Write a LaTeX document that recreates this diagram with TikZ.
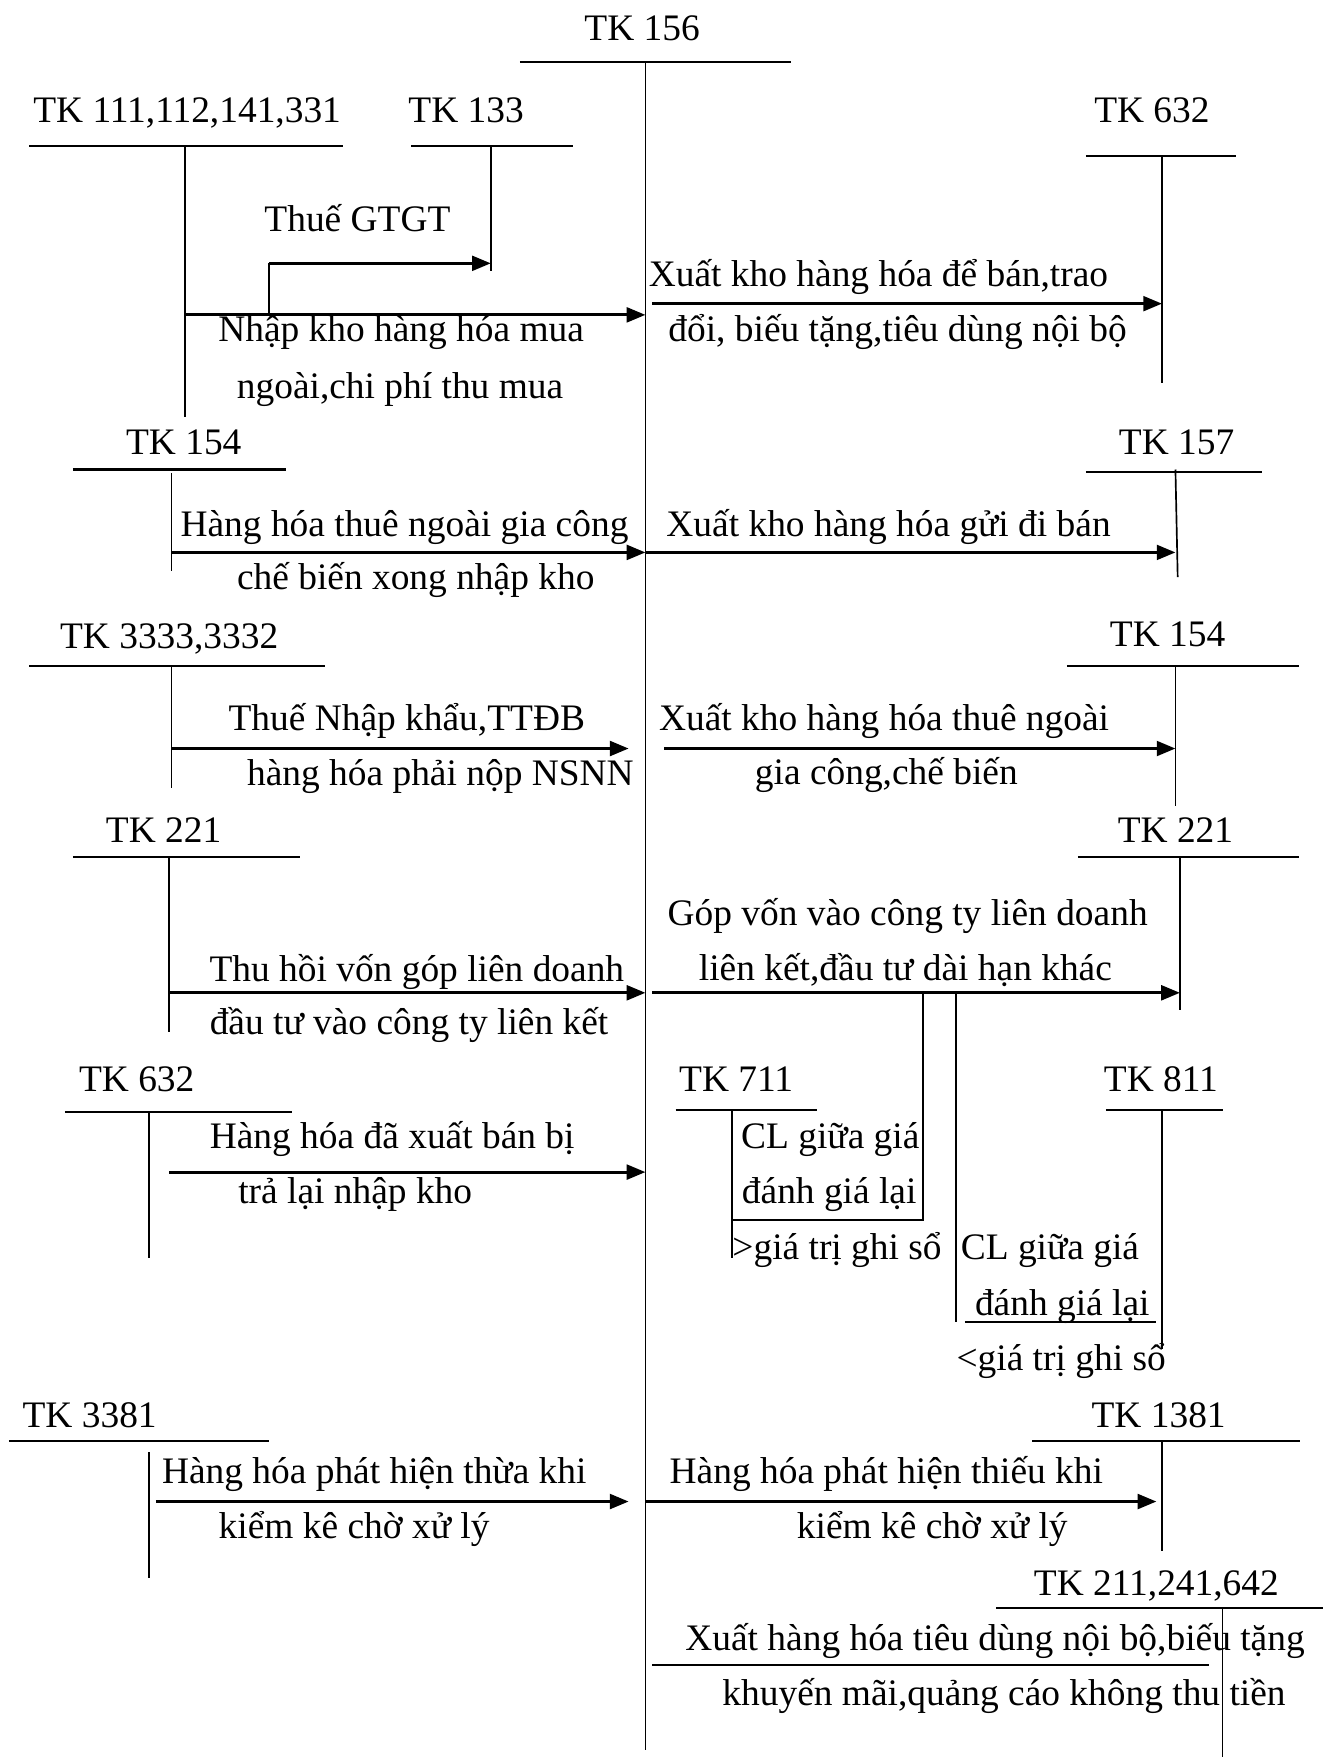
\documentclass[tikz,border=0pt]{standalone}
\usepackage{fontspec}
\setmainfont{Liberation Serif}
\usepackage{tikz}
\usetikzlibrary{arrows.meta}
\newcommand{\tkfont}{\fontsize{19pt}{22pt}\selectfont}

\begin{document}
\begin{tikzpicture}[
  x=0.2mm, y=-0.2mm,
  lbl/.style={font=\tkfont, inner sep=0pt, anchor=base},
  bar/.style={line width=1.05pt},
  stem/.style={line width=0.85pt},
  link/.style={line width=1pt},
  flow/.style={line width=1.45pt, -{Triangle[length=9.5pt,width=7.5pt]}},
]
\useasboundingbox (0,0) rectangle (1181,1568);

% TK 156
\node[lbl] (tk156) at (573,36) {TK 156};
\draw[bar] (464,55) -- (706,55);
\draw[stem] (576,55) coordinate (s156) -- (576,1562);

% TK 111,112,141,331 and TK 133
\node[lbl] (tk111) at (167,109) {TK 111,112,141,331};
\draw[bar] (26,130) -- (306,130);
\draw[stem] (165,130) coordinate (s111) -- (165,372);
\node[lbl] (tk133) at (416,109) {TK 133};
\draw[bar] (367,130) -- (511,130);
\draw[stem] (438,130) coordinate (s133) -- (438,242);
\coordinate (vat) at (240,281);
\draw[flow] (s111 |- vat) -- (s156 |- vat);
\draw[stem] (vat) -- (vat |- 0,235) coordinate (vat2);
\draw[flow] (vat2) -- (s133 |- vat2);
\node[lbl] (t-gtgt) at (319,207) {Thuế GTGT};
\node[lbl] (t-mua1) at (358,305) {Nhập kho hàng hóa mua};
\node[lbl] (t-mua2) at (357,356) {ngoài,chi phí thu mua};

% TK 632 (top right)
\node[lbl] (tk632a) at (1028,109) {TK 632};
\draw[bar] (969,139) -- (1103,139);
\draw[stem] (1037,139) coordinate (s632a) -- (1037,342);
\coordinate (o632) at (582,271);
\draw[flow] (o632) -- (s632a |- o632);
\node[lbl] (t-ban1) at (784,256) {Xuất kho hàng hóa để bán,trao};
\node[lbl] (t-ban2) at (801,305) {đổi, biếu tặng,tiêu dùng nội bộ};

% TK 154 (left)
\node[lbl] (tk154a) at (164,406) {TK 154};
\draw[bar] (65,419) -- (255,419);
\draw[stem] (153,422) coordinate (s154a) -- (153,510);
\draw[flow] (s154a |- 0,493) -- (s156 |- 0,493);
\node[lbl] (t-gc1) at (361,479) {Hàng hóa thuê ngoài gia công};
\node[lbl] (t-gc2) at (371,526) {chế biến xong nhập kho};

% TK 157
\node[lbl] (tk157) at (1050,406) {TK 157};
\draw[bar] (969,421) -- (1126,421);
\draw[stem] (1049,419) coordinate (s157) -- (1051,515);
\draw[flow] (s156 |- 0,493) -- (s157 |- 0,493);
\node[lbl] (t-gui) at (793,479) {Xuất kho hàng hóa gửi đi bán};

% TK 3333,3332
\node[lbl] (tk3333) at (151,579) {TK 3333,3332};
\draw[bar] (26,594) -- (290,594);
\draw[stem] (153,594) coordinate (s3333) -- (153,703);
\coordinate (e3333) at (561,668);
\draw[flow] (s3333 |- e3333) -- (e3333);
\node[lbl] (t-nk1) at (363,652) {Thuế Nhập khẩu,TTĐB};
\node[lbl] (t-nk2) at (393,701) {hàng hóa phải nộp NSNN};

% TK 154 (right)
\node[lbl] (tk154b) at (1042,577) {TK 154};
\draw[bar] (952,594) -- (1159,594);
\draw[stem] (1049,594) coordinate (s154b) -- (1049,719);
\coordinate (o154) at (593,668);
\draw[flow] (o154) -- (s154b |- o154);
\node[lbl] (t-xt1) at (789,652) {Xuất kho hàng hóa thuê ngoài};
\node[lbl] (t-xt2) at (791,700) {gia công,chế biến};

% TK 221 (left)
\node[lbl] (tk221a) at (146,752) {TK 221};
\draw[bar] (65,765) -- (268,765);
\draw[stem] (151,765) coordinate (s221a) -- (151,921);
\draw[flow] (s221a |- 0,886) -- (s156 |- 0,886);
\node[lbl] (t-hv1) at (372,876) {Thu hồi vốn góp liên doanh};
\node[lbl] (t-hv2) at (365,923) {đầu tư vào công ty liên kết};

% TK 221 (right)
\node[lbl] (tk221b) at (1049,752) {TK 221};
\draw[bar] (962,765) -- (1159,765);
\draw[stem] (1053,765) coordinate (s221b) -- (1053,901);
\coordinate (o221) at (582,886);
\draw[flow] (o221) -- (s221b |- o221);
\node[lbl] (t-gv1) at (810,826) {Góp vốn vào công ty liên doanh};
\node[lbl] (t-gv2) at (808,875) {liên kết,đầu tư dài hạn khác};

% TK 711 and TK 811
\node[lbl] (tk711) at (657,974) {TK 711};
\draw[bar] (603,991) -- (729,991);
\draw[stem] (653,991) coordinate (s711) -- (653,1123);
\coordinate (d711) at (824,886);
\draw[link] (d711) |- (s711 |- 0,1089);
\node[lbl] (t-cl1) at (741,1025) {CL giữa giá};
\node[lbl] (t-cl2) at (740,1074) {đánh giá lại};
\node[lbl] (t-cl3) at (747,1124) {>giá trị ghi sổ};

\node[lbl] (tk811) at (1036,974) {TK 811};
\draw[bar] (987,991) -- (1091,991);
\draw[stem] (1037,991) -- (1037,1204);
\coordinate (d811) at (853,886);
\draw[link] (d811) -- (d811 |- 0,1180);
\coordinate (u811a) at (861,1180);
\coordinate (u811b) at (1032,1180);
\draw[link] (u811a) -- (u811b);
\node[lbl] (t-cl4) at (937,1124) {CL giữa giá};
\node[lbl] (t-cl5) at (948,1174) {đánh giá lại};
\node[lbl] (t-cl6) at (947,1223) {<giá trị ghi sổ};

% TK 632 (left)
\node[lbl] (tk632b) at (122,974) {TK 632};
\draw[bar] (58,992) -- (261,992);
\draw[stem] (133,992) -- (133,1123);
\coordinate (o632b) at (151,1046);
\draw[flow] (o632b) -- (s156 |- o632b);
\node[lbl] (t-tl1) at (350,1025) {Hàng hóa đã xuất bán bị};
\node[lbl] (t-tl2) at (317,1074) {trả lại nhập kho};

% TK 3381 and TK 1381
\node[lbl] (tk3381) at (80,1274) {TK 3381};
\draw[bar] (8,1286) -- (240,1286);
\draw[stem] (133,1296) -- (133,1408);
\coordinate (o3381) at (139,1340);
\coordinate (e3381) at (561,1340);
\draw[flow] (o3381) -- (e3381);
\node[lbl] (t-thua1) at (334,1324) {Hàng hóa phát hiện thừa khi};
\node[lbl] (t-thua2) at (316,1373) {kiểm kê chờ xử lý};

\node[lbl] (tk1381) at (1034,1274) {TK 1381};
\draw[bar] (921,1286) -- (1160,1286);
\draw[stem] (1037,1286) -- (1037,1384);
\coordinate (e1381) at (1032,1340);
\draw[flow] (s156 |- e1381) -- (e1381);
\node[lbl] (t-thieu1) at (791,1324) {Hàng hóa phát hiện thiếu khi};
\node[lbl] (t-thieu2) at (832,1373) {kiểm kê chờ xử lý};

% TK 211,241,642
\node[lbl] (tk211) at (1032,1424) {TK 211,241,642};
\draw[bar] (889,1435) -- (1181,1435);
\draw[stem] (1091,1435) -- (1091,1568);
\coordinate (o211) at (582,1486);
\coordinate (e211) at (1079,1486);
\draw[link] (o211) -- (e211);
\node[lbl] (t-bt1) at (888,1473) {Xuất hàng hóa tiêu dùng nội bộ,biếu tặng};
\node[lbl] (t-bt2) at (896,1522) {khuyến mãi,quảng cáo không thu tiền};
\end{tikzpicture}
\end{document}
